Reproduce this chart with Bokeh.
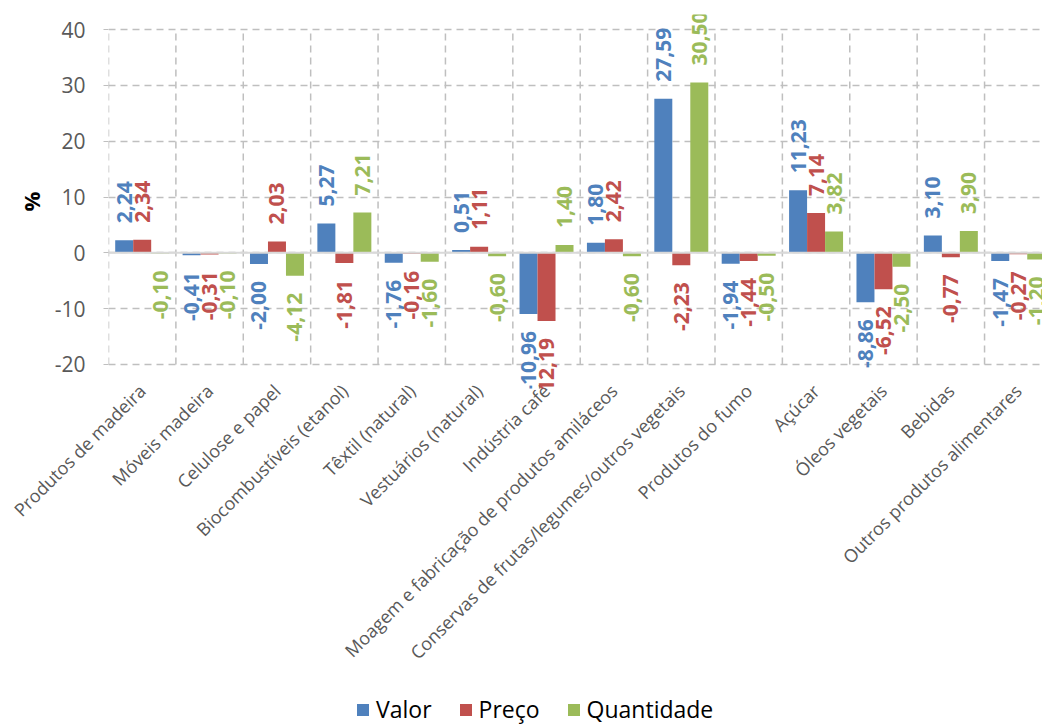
from math import pi
from bokeh.plotting import figure
from bokeh.layouts import column
from bokeh.models import (ColumnDataSource, LabelSet, FixedTicker, Range1d, Span,
                          Legend, LegendItem)
from bokeh.core.properties import value
from bokeh.embed import file_html
from bokeh.resources import INLINE

categories = ["Produtos de madeira", "Móveis madeira", "Celulose e papel",
              "Biocombustíveis (etanol)", "Têxtil (natural)", "Vestuários (natural)",
              "Indústria café", "Moagem e fabricação de produtos amiláceos",
              "Conservas de frutas/legumes/outros vegetais", "Produtos do fumo",
              "Açúcar", "Óleos vegetais", "Bebidas", "Outros produtos alimentares"]
valor = [2.24, -0.41, -2.00, 5.27, -1.76, 0.51, -10.96, 1.80, 27.59, -1.94, 11.23, -8.86, 3.10, -1.47]
preco = [2.34, -0.31, 2.03, -1.81, -0.16, 1.11, -12.19, 2.42, -2.23, -1.44, 7.14, -6.52, -0.77, -0.27]
quantidade = [-0.10, -0.10, -4.12, 7.21, -1.60, -0.60, 1.40, -0.60, 30.50, -0.50, 3.82, -2.50, 3.90, -1.20]
series_names = ["Valor", "Preço", "Quantidade"]
y_ticks = [-20, -10, 0, 10, 20, 30, 40]

colors = ["#4F81BD", "#C0504D", "#9BBB59"]
series = [valor, preco, quantidade]
n = len(categories)
bar_w = 0.267
offsets = [-bar_w, 0.0, bar_w]

p = figure(width=1042, height=690, output_backend="svg", toolbar_location=None,
           x_range=Range1d(0, 13.86), y_range=Range1d(-24.3, 42.7),
           min_border_left=108, min_border_right=0, min_border_top=14,
           min_border_bottom=302)
p.outline_line_color = None
p.background_fill_color = "white"

# grids
p.xgrid.visible = False
p.ygrid.ticker = FixedTicker(ticks=y_ticks)
p.ygrid.grid_line_color = "#bfbfbf"
p.ygrid.grid_line_dash = "7 5"
p.ygrid.grid_line_width = 1.5
bounds = list(range(n + 1))
p.segment(x0=bounds, x1=bounds, y0=[min(y_ticks)] * len(bounds), y1=[max(y_ticks)] * len(bounds),
          line_color="#bfbfbf", line_dash="7 5", line_width=1.5)

# axes
p.yaxis.ticker = FixedTicker(ticks=y_ticks)
p.yaxis.major_label_overrides = {t: str(t) for t in y_ticks}
p.yaxis.axis_line_color = None
p.yaxis.major_tick_in = 0
p.yaxis.major_tick_out = 5
p.yaxis.major_tick_line_color = "#bfbfbf"
p.yaxis.minor_tick_line_color = None
p.yaxis.major_label_text_font = "Open Sans"
p.yaxis.major_label_text_font_size = "21px"
p.yaxis.major_label_text_color = "#595959"
p.yaxis.major_label_standoff = 18
p.yaxis.axis_label = "%"
p.yaxis.axis_label_text_font = "Open Sans"
p.yaxis.axis_label_text_font_style = "bold"
p.yaxis.axis_label_text_font_size = "22px"
p.yaxis.axis_label_text_color = "black"
p.yaxis.axis_label_standoff = 6

centers = [i + 0.5 for i in range(n)]
p.xaxis.ticker = FixedTicker(ticks=centers)
p.xaxis.major_label_overrides = {c: name for c, name in zip(centers, categories)}
p.xaxis.major_label_orientation = pi / 4
p.xaxis.axis_line_color = None
p.xaxis.major_tick_line_color = None
p.xaxis.minor_tick_line_color = None
p.xaxis.major_label_text_font = "Open Sans"
p.xaxis.major_label_text_font_size = "18px"
p.xaxis.major_label_text_color = "#595959"
p.xaxis.major_label_standoff = -7

pos = dict(x=[], y=[], t=[], c=[])
neg = dict(x=[], y=[], t=[], c=[])
for vals, col, off in zip(series, colors, offsets):
    xs = [c + off for c in centers]
    src = ColumnDataSource(dict(x=xs, top=vals))
    p.vbar(x="x", top="top", bottom=0, width=bar_w, source=src,
           fill_color=col, line_color=None)
    for x, v in zip(xs, vals):
        d = pos if v >= 0 else neg
        d["x"].append(x)
        d["y"].append(v)
        d["t"].append(f"{v:.2f}".replace(".", ","))
        d["c"].append(col)

p.add_layout(Span(location=0, dimension="width", line_color="#d9d9d9", line_width=2))

for d, align, yoff in ((pos, "left", 17), (neg, "right", -17)):
    ls = LabelSet(x="x", y="y", text="t", source=ColumnDataSource(d),
                  angle=pi / 2, text_align=align, text_baseline="middle",
                  y_offset=yoff, text_color="c", text_font=value("Open Sans"),
                  text_font_style="bold", text_font_size="21px")
    p.add_layout(ls)

# legend strip
lf = figure(width=1042, height=35, output_backend="svg", toolbar_location=None,
            x_range=Range1d(0, 1), y_range=Range1d(0, 1), min_border=0,
            x_axis_location=None, y_axis_location=None)
lf.grid.visible = False
lf.outline_line_color = None
nan = float("nan")
leg_renderers = [lf.vbar(x=[nan], top=[nan], bottom=[nan], width=0.1, fill_color=c, line_color=None)
                 for c in colors]
legend = Legend(items=[LegendItem(label=nm, renderers=[r]) for nm, r in zip(series_names, leg_renderers)],
                orientation="horizontal", location=(247, 0),
                glyph_width=15, glyph_height=15, label_standoff=6, spacing=26,
                label_text_font="Open Sans", label_text_font_size="23px",
                label_text_color="black", border_line_color=None,
                background_fill_alpha=0, padding=0, margin=0)
lf.add_layout(legend, "center")

layout = column(p, lf, spacing=0)
open("out.html", "w").write(file_html(layout, INLINE))
